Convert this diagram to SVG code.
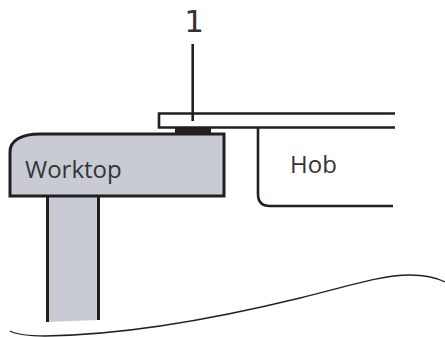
<svg xmlns="http://www.w3.org/2000/svg" width="445" height="337" viewBox="0 0 445 337">
<style>
.s{fill:none;stroke:#231f20;stroke-width:2.600}
.t{font-family:"Open Sans","Liberation Sans",sans-serif;fill:#333335;font-size:24px}
</style>
<rect width="445" height="337" fill="#fff"/>
<g id="leg">
<path d="M47 196H99V320L47 322Z" fill="#c8cbd3"/>
<path d="M47.500 196V322M98.500 196V320" fill="none" stroke="#231f20" stroke-width="3"/>
</g>
<g id="worktop">
<path d="M10 196V152C10 140 22 134 40 134H224V196Z" fill="#c8cbd3" stroke="#231f20" stroke-width="3"/>
<text class="t" x="25" y="178">Worktop</text>
</g>
<g id="seal">
<path d="M175 134V127H211V134Z" fill="#231f20"/>
</g>
<g id="hob">
<path class="s" d="M395 113.500H159V127.500H395"/>
<path class="s" d="M258 127V194Q258 206 270 206H393"/>
<text class="t" x="290" y="173">Hob</text>
</g>
<g id="label-1">
<text x="194" y="32" font-size="31" text-anchor="middle" font-family="DejaVu Sans, sans-serif" fill="#333335">1</text>
</g>
<g id="connectors">
<path class="s" d="M192.700 44V121"/>
</g>
<g id="ground">
<path d="M10 331C18 335 30 336 45 336C120 335 210 320 300 298C345 287 380 275 410 275C425 275 437 278 445 282" fill="none" stroke="#231f20" stroke-width="1.300"/>
</g>
</svg>
